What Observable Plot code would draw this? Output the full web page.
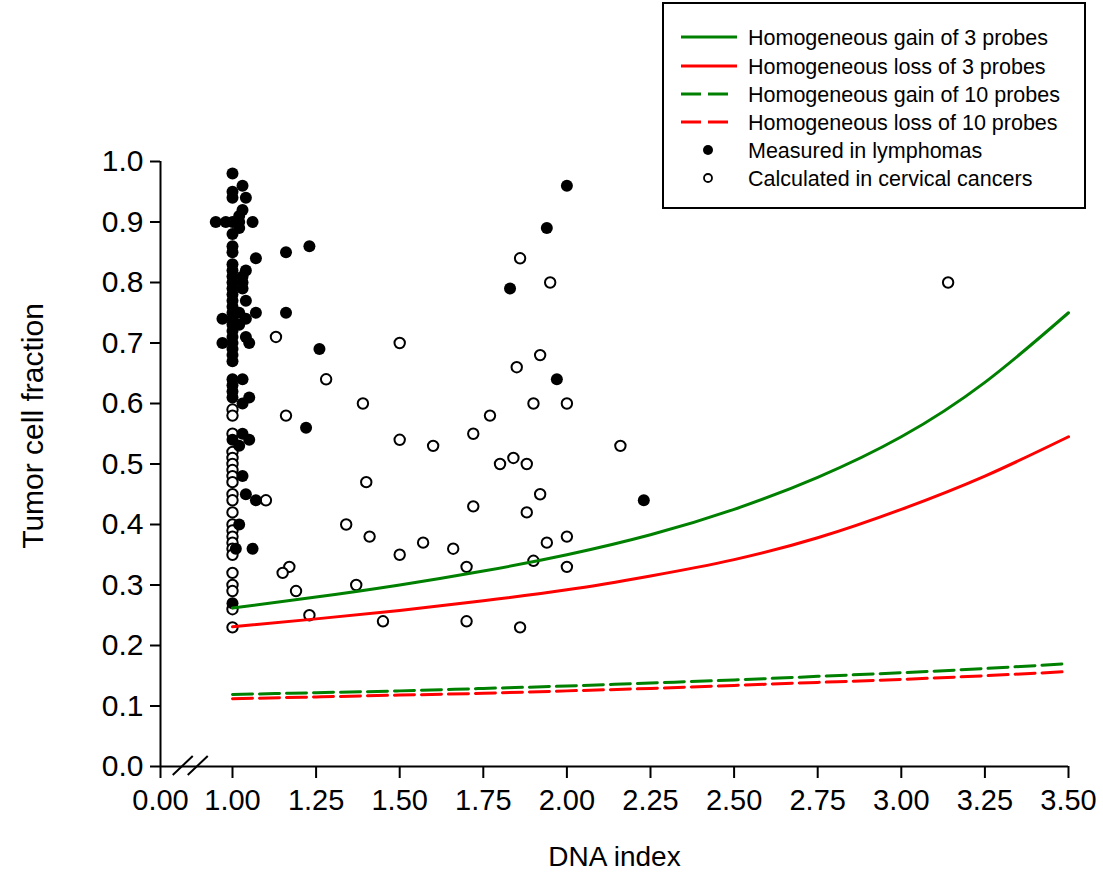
<!DOCTYPE html>
<html>
<head>
<meta charset="utf-8">
<script src="https://cdn.jsdelivr.net/npm/d3@7"></script>
<script src="https://cdn.jsdelivr.net/npm/@observablehq/plot@0.6"></script>
<style>
  body { margin: 0; background: #fff; }
  #wrap { position: relative; width: 1103px; height: 876px; }
  #legend { position: absolute; left: 660px; top: 0px; }
</style>
</head>
<body>
<div id="wrap"></div>
<script>
// ---- Data -------------------------------------------------------------
// Curve sample points (DNA index -> tumor cell fraction)
const curveX = [1.00, 1.25, 1.50, 1.75, 2.00, 2.25, 2.50, 2.75, 3.00, 3.25, 3.50];
const gain3  = [0.262, 0.280, 0.300, 0.323, 0.350, 0.383, 0.425, 0.478, 0.545, 0.635, 0.750];
const loss3  = [0.231, 0.244, 0.258, 0.274, 0.292, 0.315, 0.342, 0.378, 0.425, 0.480, 0.545];
const gain10 = [0.119, 0.122, 0.125, 0.129, 0.133, 0.138, 0.143, 0.149, 0.155, 0.162, 0.170];
const loss10 = [0.112, 0.115, 0.118, 0.121, 0.125, 0.129, 0.134, 0.139, 0.144, 0.150, 0.157];

// Measured in lymphomas (filled)
const lymphX = [
  1.00,1.00,1.00,1.00,1.00,1.00,1.00,1.00,1.00,1.00,1.00,1.00,1.00,1.00,1.00,1.00,1.00,1.00,1.00,1.00,
  1.00,1.00,1.00,1.00,1.00,1.00,1.00,1.00,1.00,1.00,
  1.03,1.04,1.03,1.02,0.95,0.98,1.02,1.06,1.02,1.07,1.04,1.03,1.03,1.03,1.04,1.02,1.07,0.97,1.04,1.02,
  1.04,0.97,1.05,1.03,1.05,1.03,1.03,1.05,1.02,1.03,1.04,1.07,1.02,1.01,1.06,
  1.16,1.23,1.16,1.26,1.22,1.83,1.94,2.00,1.97,2.23
];
const lymphY = [
  0.98,0.95,0.94,0.90,0.88,0.86,0.85,0.83,0.82,0.81,0.80,0.79,0.78,0.77,0.76,0.75,0.74,0.73,0.72,0.71,
  0.70,0.69,0.68,0.67,0.64,0.63,0.62,0.61,0.54,0.27,
  0.96,0.94,0.92,0.91,0.90,0.90,0.90,0.90,0.89,0.84,0.82,0.81,0.80,0.79,0.77,0.75,0.75,0.74,0.74,0.73,
  0.71,0.70,0.70,0.64,0.61,0.60,0.55,0.54,0.53,0.48,0.45,0.44,0.40,0.36,0.36,
  0.85,0.86,0.75,0.69,0.56,0.79,0.89,0.96,0.64,0.44
];

// Calculated in cervical cancers (open)
const cervX = [
  1.00,1.00,1.00,1.00,1.00,1.00,1.00,1.00,1.00,1.00,1.00,1.00,1.00,1.00,1.00,1.00,1.00,1.00,1.00,1.00,
  1.00,1.00,1.00,
  1.10,1.13,1.50,1.28,1.39,1.16,1.50,1.60,1.85,1.92,1.90,1.77,1.72,1.80,1.84,1.88,1.40,1.92,1.72,1.88,
  1.34,1.41,1.50,1.57,1.66,1.94,1.70,1.90,1.17,1.15,1.19,1.37,1.23,1.45,1.70,1.86,1.86,1.95,2.00,2.16,
  2.00,2.00,3.14
];
const cervY = [
  0.59,0.58,0.55,0.52,0.51,0.50,0.49,0.48,0.47,0.45,0.44,0.42,0.40,0.39,0.38,0.37,0.36,0.35,0.32,0.30,
  0.29,0.26,0.23,
  0.44,0.71,0.70,0.64,0.60,0.58,0.54,0.53,0.66,0.68,0.60,0.58,0.55,0.50,0.51,0.50,0.47,0.45,0.43,0.42,
  0.40,0.38,0.35,0.37,0.36,0.37,0.33,0.34,0.33,0.32,0.29,0.30,0.25,0.24,0.24,0.23,0.84,0.80,0.60,0.53,
  0.38,0.33,0.80
];

// Tick labels
const xTickValues = [1.00, 1.25, 1.50, 1.75, 2.00, 2.25, 2.50, 2.75, 3.00, 3.25, 3.50];
const xTickLabels = ["0.00", "1.00", "1.25", "1.50", "1.75", "2.00", "2.25", "2.50", "2.75", "3.00", "3.25", "3.50"];
const yTickValues = [0, 0.1, 0.2, 0.3, 0.4, 0.5, 0.6, 0.7, 0.8, 0.9, 1.0];
const yTickLabels = ["0.0","0.1","0.2","0.3","0.4","0.5","0.6","0.7","0.8","0.9","1.0"];

const seriesNames = [
  "Homogeneous gain of 3 probes",
  "Homogeneous loss of 3 probes",
  "Homogeneous gain of 10 probes",
  "Homogeneous loss of 10 probes",
  "Measured in lymphomas",
  "Calculated in cervical cancers"
];

// ---- Build ------------------------------------------------------------
const GREEN = "#008000", RED = "#ff0000";
const FONT = "'Liberation Sans', Arial, sans-serif";

// broken axis: left end of the x axis stands for 0.00
const xBreak = 0.7847;
const allXTicks = [xBreak, ...xTickValues];

const lymph = lymphX.map((x, i) => ({x, y: lymphY[i]}));
const cerv = cervX.map((x, i) => ({x, y: cervY[i]}));
const curve = (ys) => curveX.map((x, i) => ({x, y: ys[i]}));

const breakMark = (index, {x, y}) => {
  const x0 = x(xBreak), x1 = x(1), y0 = y(0);
  const mid = x0 + (x1 - x0) * 0.42;
  const g = d3.create("svg:g").attr("stroke", "#000").attr("stroke-width", 2).attr("fill", "none");
  g.append("path").attr("d", `M${mid - 17.5},${y0 + 9}L${mid + 2.5},${y0 - 10}`);
  g.append("path").attr("d", `M${mid - 2.5},${y0 + 9}L${mid + 17.5},${y0 - 10}`);
  return g.node();
};

const chart = Plot.plot({
  width: 1103,
  height: 876,
  marginLeft: 160,
  marginRight: 35,
  marginTop: 161,
  marginBottom: 110,
  style: {fontFamily: FONT, fontSize: "29px", color: "#000", background: "#fff", overflow: "visible"},
  x: {domain: [xBreak, 3.5]},
  y: {domain: [0, 1]},
  marks: [
    Plot.axisX({
      ticks: allXTicks,
      tickFormat: d => xTickLabels[allXTicks.indexOf(d)],
      tickSize: 12, tickPadding: 11, strokeWidth: 2, label: null, fontSize: 29
    }),
    Plot.axisY({
      ticks: yTickValues,
      tickFormat: d => yTickLabels[yTickValues.indexOf(d)],
      tickSize: 10, tickPadding: 7, strokeWidth: 2, label: null, fontSize: 30
    }),
    Plot.ruleY([0], {strokeWidth: 2}),
    Plot.ruleX([xBreak], {y1: 0, y2: 1, strokeWidth: 2}),
    breakMark,
    Plot.dot(cerv, {x: "x", y: "y", r: 5.2, stroke: "#000", fill: "#fff", strokeWidth: 2}),
    Plot.dot(lymph, {x: "x", y: "y", r: 6, fill: "#000", stroke: "none"}),
    Plot.line(curve(gain10), {x: "x", y: "y", stroke: GREEN, strokeWidth: 3, curve: "natural", strokeDasharray: "20,7"}),
    Plot.line(curve(loss10), {x: "x", y: "y", stroke: RED, strokeWidth: 3, curve: "natural", strokeDasharray: "20,7"}),
    Plot.line(curve(loss3), {x: "x", y: "y", stroke: RED, strokeWidth: 3, curve: "natural"}),
    Plot.line(curve(gain3), {x: "x", y: "y", stroke: GREEN, strokeWidth: 3, curve: "natural"}),
    Plot.text(["DNA index"], {frameAnchor: "bottom", lineAnchor: "middle", textAnchor: "middle", dy: 91, fontSize: 28}),
    Plot.text(["Tumor cell fraction"], {frameAnchor: "left", textAnchor: "middle", lineAnchor: "middle", dx: -127, dy: -38, rotate: -90, fontSize: 30})
  ]
});

const wrap = document.getElementById("wrap");
wrap.appendChild(chart);

// ---- Legend (overlay) -------------------------------------------------
const leg = d3.create("svg").attr("id", "legend").attr("width", 430).attr("height", 214)
  .style("font-family", FONT);
leg.append("rect").attr("x", 3).attr("y", 3).attr("width", 422).attr("height", 205)
  .attr("fill", "#fff").attr("stroke", "#000").attr("stroke-width", 2);
const rowsY = [37, 66, 94, 122, 150, 178];
const styles = [
  {type: "line", color: GREEN, dash: null},
  {type: "line", color: RED, dash: null},
  {type: "line", color: GREEN, dash: "20,7"},
  {type: "line", color: RED, dash: "20,7"},
  {type: "dot", fill: "#000"},
  {type: "dot", fill: "#fff"}
];
seriesNames.forEach((name, i) => {
  const s = styles[i], yy = rowsY[i];
  if (s.type === "line") {
    const l = leg.append("line").attr("x1", 21).attr("x2", s.dash ? 68 : 77).attr("y1", yy).attr("y2", yy)
      .attr("stroke", s.color).attr("stroke-width", 3);
    if (s.dash) l.attr("stroke-dasharray", s.dash);
  } else {
    leg.append("circle").attr("cx", 48).attr("cy", yy).attr("r", s.fill === "#000" ? 5 : 4)
      .attr("fill", s.fill).attr("stroke", "#000").attr("stroke-width", s.fill === "#000" ? 0 : 1.8);
  }
  leg.append("text").attr("x", 88).attr("y", yy).attr("dy", "0.35em")
    .attr("font-size", 21.5).attr("fill", "#000").text(name);
});
wrap.appendChild(leg.node());
</script>
</body>
</html>
